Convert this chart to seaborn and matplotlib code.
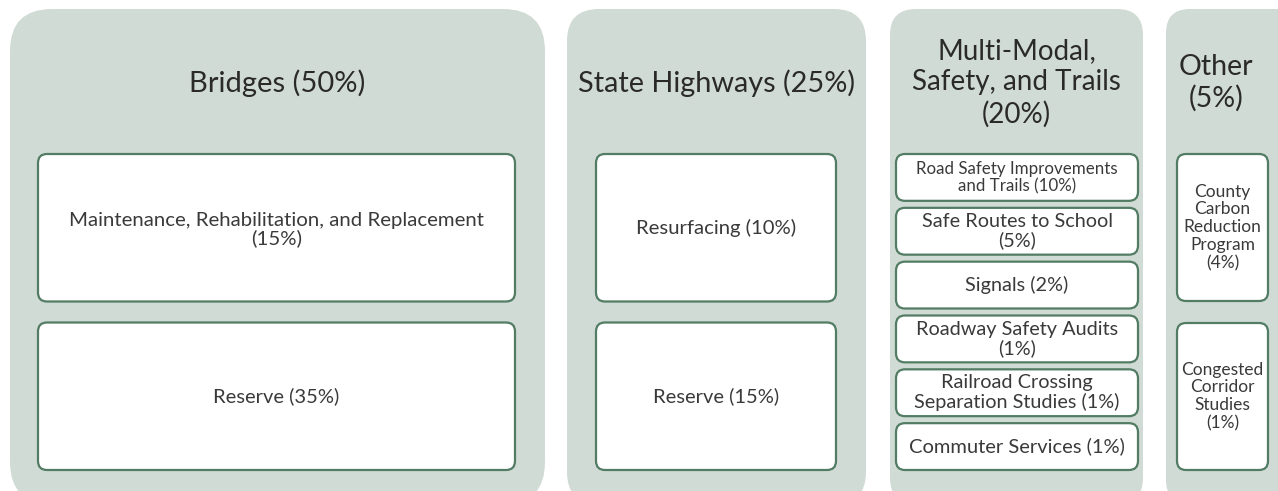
"""Funding split diagram: program categories and their sub-allocations as rounded boxes."""
import matplotlib
matplotlib.use("Agg")
import matplotlib.pyplot as plt
from matplotlib.patches import FancyBboxPatch
import seaborn as sns

# data
groups = ["Bridges (50%)", "State Highways (25%)",
          "Multi-Modal,\nSafety, and Trails\n(20%)", "Other\n(5%)"]
items = [
    ["Maintenance, Rehabilitation, and Replacement\n(15%)", "Reserve (35%)"],
    ["Resurfacing (10%)", "Reserve (15%)"],
    ["Road Safety Improvements\nand Trails (10%)", "Safe Routes to School\n(5%)",
     "Signals (2%)", "Roadway Safety Audits\n(1%)",
     "Railroad Crossing\nSeparation Studies (1%)", "Commuter Services (1%)"],
    ["County\nCarbon\nReduction\nProgram\n(4%)", "Congested\nCorridor\nStudies\n(1%)"],
]

# layout (pixel units)
W, H = 1278, 491
col_x = [(10, 545), (567, 866), (890, 1143), (1166, 1310)]
inner_pad = [(28, 30), (29, 30), (6, 5), (11, 10)]
outer_r = [42, 32, 26, 24]
gaps = [21, 21, 7, 22]
title_y = [83, 83, 83, 83]
title_fs = [21, 20.8, 20, 20.5]
item_fs = [[14.7, 14.5], [14.6, 14.5],
           [12.2, 14.3, 14.3, 14.3, 14.3, 14.5], [12.5, 12.5]]
item_ls = [1.05, 1.05, 1.1, 1.15]
top, bottom = 154, 470

panel_color = "#d1dbd5"
edge_color = "#527c63"
text_color = "#3a3a3a"

sns.set_theme(style="white")
plt.rcParams["font.family"] = ["Lato", "DejaVu Sans"]

fig = plt.figure(figsize=(W / 100, H / 100), dpi=100)
ax = fig.add_axes([0, 0, 1, 1])
ax.set_xlim(0, W)
ax.set_ylim(H, 0)
ax.axis("off")

for i, (g, subs) in enumerate(zip(groups, items)):
    x0, x1 = col_x[i]
    ax.add_patch(FancyBboxPatch((x0, 9), x1 - x0, 495, boxstyle=f"round,pad=0,rounding_size={outer_r[i]}",
                                facecolor=panel_color, edgecolor="none"))
    cx = (x0 + 1266) / 2 if i == 3 else (x0 + x1) / 2
    ax.text(cx, title_y[i], g, ha="center", va="center", fontsize=title_fs[i],
            color="#2a2a2a", linespacing=1.24)

    lp, rp = inner_pad[i]
    bx0 = x0 + lp
    bx1 = (1268 if i == 3 else x1 - rp)
    n = len(subs)
    h = (bottom - top - gaps[i] * (n - 1)) / n
    for j, label in enumerate(subs):
        by = top + j * (h + gaps[i])
        ax.add_patch(FancyBboxPatch((bx0, by), bx1 - bx0, h,
                                    boxstyle="round,pad=0,rounding_size=9",
                                    facecolor="white", edgecolor=edge_color, linewidth=1.6))
        dy = 2 if "\n" in label and i < 2 else 0
        ax.text((bx0 + bx1) / 2, by + h / 2 + dy, label, ha="center", va="center",
                fontsize=item_fs[i][j], color=text_color, linespacing=item_ls[i])

fig.savefig("out.png", dpi=100, facecolor="white")
